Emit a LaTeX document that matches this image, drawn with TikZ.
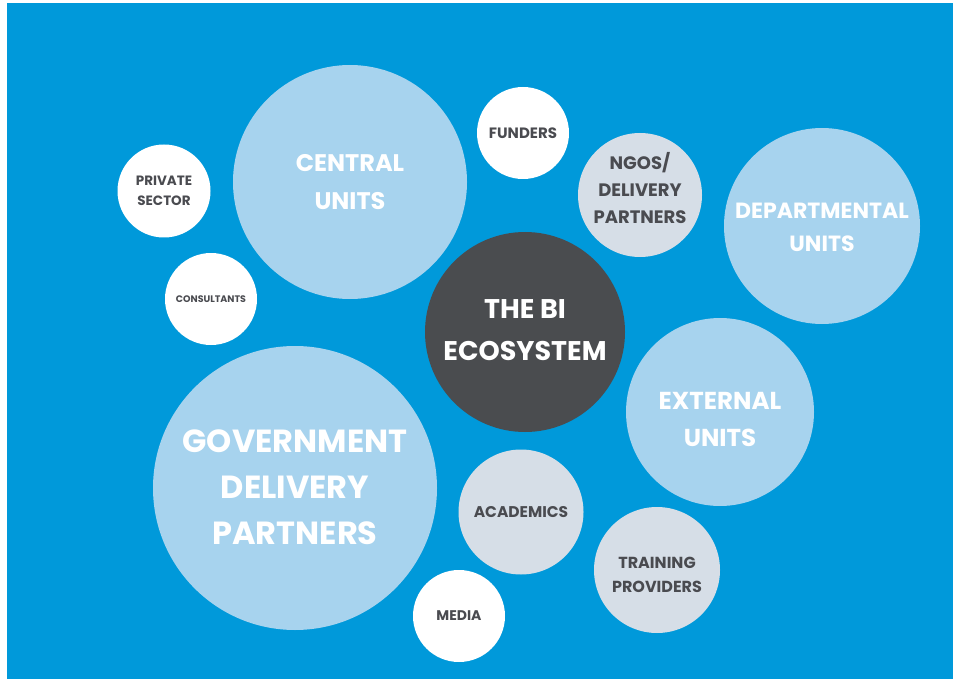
\documentclass[tikz,border=0pt]{standalone}
\usepackage{fontspec}
\setmainfont{Poppins}
\definecolor{bgblue}{HTML}{0099DA}
\definecolor{lightblue}{HTML}{A7D3EE}
\definecolor{greyc}{HTML}{D6DEE7}
\definecolor{darkc}{HTML}{4A4C4F}
\definecolor{txtdark}{HTML}{4A4B50}
\newcommand{\fs}[2]{\fontsize{#1}{#2}\selectfont\bfseries}
\tikzset{
  bubble/.style={circle, inner sep=0pt},
  bigb/.style={bubble, fill=lightblue},
  greyb/.style={bubble, fill=greyc},
  whiteb/.style={bubble, fill=white},
  darkb/.style={bubble, fill=darkc},
  lbl/.style={align=center, inner sep=0pt},
  lblw/.style={lbl, text=white},
  lbld/.style={lbl, text=txtdark},
}
\begin{document}
\begin{tikzpicture}[x=1pt,y=-1pt]
\useasboundingbox (0,0) rectangle (953,679);
\fill[white] (0,0) rectangle (953,679);
\fill[bgblue] (7,3) rectangle (953,679);
% circles
\node[bigb, minimum size=234pt] (central) at (350,182) {};
\node[whiteb, minimum size=93pt] (private) at (164,191) {};
\node[whiteb, minimum size=92pt] (consult) at (211,299) {};
\node[whiteb, minimum size=92pt] (funders) at (523,133) {};
\node[greyb, minimum size=124pt] (ngos) at (640,195) {};
\node[bigb, minimum size=196pt] (dept) at (822,226) {};
\node[darkb, minimum size=200pt] (bi) at (525,332) {};
\node[bigb, minimum size=188pt] (ext) at (720,412) {};
\node[bigb, minimum size=284pt] (gov) at (295,488) {};
\node[greyb, minimum size=125pt] (acad) at (521,512) {};
\node[greyb, minimum size=126pt] (train) at (657,570) {};
\node[whiteb, minimum size=92pt] (media) at (459,616) {};
% labels
\node[lblw, font=\fs{24}{38}] (centralT) at (central.center) {CENTRAL\\UNITS};
\node[lbld, font=\fs{13.5}{20}] (privateT) at (private.center) {PRIVATE\\SECTOR};
\node[lbld, font=\fs{9.5}{11}] (consultT) at (consult.center) {CONSULTANTS};
\node[lbld, font=\fs{15}{16}] (fundersT) at (funders.center) {FUNDERS};
\node[lbld, font=\fs{18}{27}] (ngosT) at ([yshift=7pt]ngos.center) {NGOS/\\DELIVERY\\PARTNERS};
\node[lblw, font=\fs{22}{33}] (deptT) at ([yshift=-1pt]dept.center) {DEPARTMENTAL\\UNITS};
\node[lblw, font=\fs{27}{42}] (biT) at ([yshift=2pt]bi.center) {THE BI\\ECOSYSTEM};
\node[lblw, font=\fs{24.5}{37}] (extT) at ([yshift=-7pt]ext.center) {EXTERNAL\\UNITS};
\node[lblw, font=\fs{32}{46}] (govT) at ([yshift=1pt]gov.center) {GOVERNMENT\\DELIVERY\\PARTNERS};
\node[lbld, font=\fs{15.5}{17}] (acadT) at (acad.center) {ACADEMICS};
\node[lbld, font=\fs{16}{24}] (trainT) at ([yshift=-5pt]train.center) {TRAINING\\PROVIDERS};
\node[lbld, font=\fs{14}{15}] (mediaT) at (media.center) {MEDIA};
\end{tikzpicture}
\end{document}
